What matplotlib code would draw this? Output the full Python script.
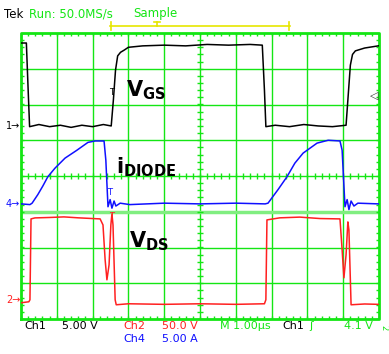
import matplotlib
matplotlib.use('Agg')
import matplotlib.pyplot as plt
import numpy as np

plt.rcParams['font.family'] = ['DejaVu Sans']
plt.rcParams['mathtext.fontset'] = 'dejavusans'

# time in us (1 us/div)
# Ch1 - V_GS (volts, 5 V/div)
vgs_t = [0.00, 0.15, 0.20, 0.24, 0.5, 0.8, 1.1, 1.4, 1.7, 2.0, 2.3,
         2.52, 2.58, 2.64, 2.70, 2.78, 2.88, 3.00, 3.40, 4.00, 4.60, 5.20, 5.80, 6.40,
         6.74, 6.80, 6.84, 7.10, 7.50, 7.90, 8.30, 8.70,
         9.08, 9.14, 9.20, 9.26, 9.34, 9.60, 9.98]
vgs_v = [11.6, 11.6, 5.0, -0.1, 0.2, -0.1, 0.1, -0.2, 0.1, -0.1, 0.2,
         0.0, 3.6, 7.8, 9.8, 10.3, 10.6, 11.0, 11.2, 11.3, 11.2, 11.4, 11.3, 11.4,
         11.3, 5.0, -0.1, 0.1, -0.1, 0.2, 0.0, -0.1,
         0.1, 4.3, 8.5, 10.0, 10.5, 10.9, 11.2]

# Ch4 - i_DIODE (amps, 5 A/div)
id_t = [0.00, 0.25, 0.31, 0.47, 0.61, 0.75, 0.95, 1.23, 1.56, 1.87, 2.07,
        2.32, 2.37, 2.43, 2.49, 2.54, 2.60, 2.65, 2.77, 3.04,
        4.0, 5.0, 6.0, 6.82, 6.90,
        7.18, 7.43, 7.65, 7.88, 8.27, 8.58, 8.91,
        8.97, 9.05, 9.11, 9.16, 9.22, 9.30, 9.41, 9.98]
id_a = [0.0, -0.1, 0.1, 1.3, 2.5, 3.8, 5.0, 6.4, 7.5, 8.6, 8.8,
        8.8, 6.1, -0.4, 0.6, -0.6, 0.4, -0.3, 0.1, -0.1,
        0.1, 0.0, 0.1, 0.0, 0.1,
        2.0, 3.8, 5.7, 7.1, 8.5, 8.9, 8.8,
        7.5, -0.4, 0.6, -0.8, 0.4, -0.3, 0.1, 0.0]

# Ch2 - V_DS (volts, 50 V/div)
vds_t = [0.00, 0.22, 0.25, 0.28, 0.39, 0.8, 1.2, 1.6, 2.0,
         2.21, 2.29, 2.35, 2.40, 2.46, 2.51, 2.54, 2.57, 2.63, 2.66,
         3.0, 4.0, 5.0, 6.0, 6.80,
         6.84, 6.87, 7.23, 7.79, 8.35, 8.91,
         8.97, 9.02, 9.08, 9.13, 9.16, 9.22, 9.6, 9.98]
vds_v = [-2.8, -1.4, 1.4, 114.5, 115.9, 116.5, 117.3, 116.0, 115.0,
         114.5, 106.1, 57.3, 29.3, 50.3, 106.1, 121.5, 106.1, 1.4, -5.6,
         -4.2, -5.0, -4.2, -5.0, -4.2,
         1.4, 113.1, 116.0, 117.0, 115.0, 114.5,
         71.2, 32.1, 64.2, 110.3, 99.2, -5.6, -4.5, -5.0]

# channel scale (units/div) and ground offset (div)
ch1_scale, ch1_off = 5.0, 1.40
ch4_scale, ch4_off = 5.0, -0.78
ch2_scale, ch2_off = 50.0, -3.49

green = '#14e614'
W, H = 389, 354

fig = plt.figure(figsize=(W / 100, H / 100), dpi=100)
ax = fig.add_axes([21 / W, 1 - 319 / H, 358 / W, 286 / H])
ax.set_xlim(0, 10)
ax.set_ylim(-4, 4)
ax.axis('off')

# graticule
for i in range(1, 10):
    ax.axvline(i, color=green, lw=1)
for j in range(-3, 4):
    if j == -1:
        ax.axhline(j, color='#80ee80', lw=2.5)
    else:
        ax.axhline(j, color=green, lw=1)
ax.plot([0, 10, 10, 0, 0], [-4, -4, 4, 4, -4], color=green, lw=2, clip_on=False)
xs = np.arange(0, 10.01, 0.2)
ys = np.arange(-4, 4.01, 0.2)
d = 0.09
ax.vlines(xs, 4 - d, 4, color=green, lw=1)
ax.vlines(xs, -4, -4 + d, color=green, lw=1)
ax.hlines(ys, 0, d, color=green, lw=1)
ax.hlines(ys, 10 - d, 10, color=green, lw=1)
ax.vlines(xs, -d, d, color=green, lw=1)
ax.hlines(ys, 5 - d, 5 + d, color=green, lw=1)

# traces
ax.plot(vgs_t, ch1_off + np.array(vgs_v) / ch1_scale, color='black', lw=1.1)
ax.plot(id_t, ch4_off + np.array(id_a) / ch4_scale, color='#1010ff', lw=1.1)
ax.plot(vds_t, ch2_off + np.array(vds_v) / ch2_scale, color='#ff2020', lw=1.1)


def px(x, y):
    return (x - 21) / 35.8, (176 - y) / 35.8


# trigger T markers
for (x, y), c in [((112, 92), 'black'), ((110, 193), '#1010ff'), ((112, 217), '#ff2020')]:
    ax.text(*px(x, y), 'T', color=c, fontsize=6, ha='center', va='center')

# big labels
ax.text(*px(126, 96), r'$\mathbf{V_{GS}}$', fontsize=15, color='black', va='baseline')
ax.text(*px(116, 173), r'$\mathbf{i_{DIODE}}$', fontsize=15, color='black', va='baseline')
ax.text(*px(129, 248), r'$\mathbf{V_{DS}}$', fontsize=15, color='black', va='baseline')

# trigger level marker
ax.text(*px(374, 96), '\u25c1', fontsize=8, color='#333333', ha='center', va='center',
        clip_on=False)


def ft(x, y, s, c, **kw):
    fig.text(x / W, 1 - y / H, s, color=c, va='center', ha='left', **kw)


# channel ground markers
ft(6, 126, '1\u2192', 'black', fontsize=7)
ft(6, 204, '4\u2192', '#1010ff', fontsize=7)
ft(6, 300, '2\u2192', '#ff2020', fontsize=7)

# header
ft(4, 14, 'Tek', 'black', fontsize=8.5)
ft(29, 14, 'Run: 50.0MS/s', green, fontsize=8.5)
ft(133, 14, 'Sample', green, fontsize=8.5)
yb = '#e6e600'
fig.add_artist(plt.Line2D([110 / W, 290 / W], [1 - 26 / H, 1 - 26 / H], color=yb, lw=1.2))
for xb in (111, 289):
    fig.add_artist(plt.Line2D([xb / W, xb / W], [1 - 22 / H, 1 - 30 / H], color=yb, lw=1.2))
fig.add_artist(plt.Line2D([157 / W, 157 / W], [1 - 22 / H, 1 - 26 / H], color=yb, lw=1.2))
fig.add_artist(plt.Line2D([154 / W, 160 / W], [1 - 22 / H, 1 - 22 / H], color=yb, lw=1.2))

# footer
ft(24, 326, 'Ch1', 'black', fontsize=8)
ft(62, 326, '5.00 V', 'black', fontsize=8)
ft(123, 326, 'Ch2', '#ff2020', fontsize=8)
ft(162, 326, '50.0 V', '#ff2020', fontsize=8)
ft(123, 339, 'Ch4', '#1010ff', fontsize=8)
ft(162, 339, '5.00 A', '#1010ff', fontsize=8)
ft(220, 326, 'M 1.00\u00b5s', green, fontsize=8)
ft(282, 326, 'Ch1', 'black', fontsize=8)
ft(309, 326, '\u0283', green, fontsize=8)
ft(344, 326, '4.1 V', green, fontsize=8)
ft(379, 328, '2', green, fontsize=6, rotation=270)

fig.savefig('out.png', dpi=100, facecolor='white')
